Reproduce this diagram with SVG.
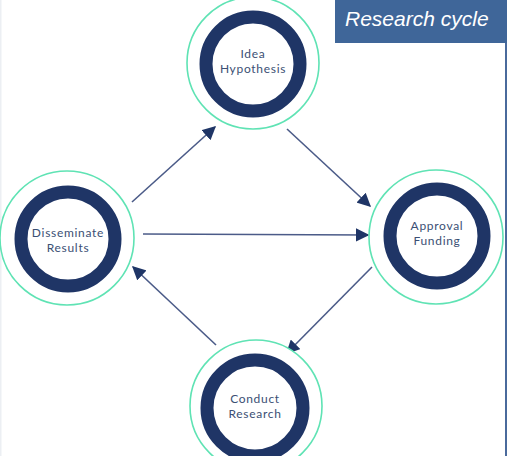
<svg xmlns="http://www.w3.org/2000/svg" width="507" height="456" viewBox="0 0 507 456">
<style>
.halo{fill:#ffffff;stroke:#5fe3b4;stroke-width:1.6}
.ring{fill:#ffffff;stroke:#1f3566;stroke-width:13}
.lbl{font-family:Lato,"Liberation Sans",sans-serif;font-size:12px;letter-spacing:0.7px;fill:#3b4f74;text-anchor:middle}
.conn{stroke:#4b5b88;stroke-width:1.6;fill:none;marker-end:url(#ah)}
</style>
<defs>
<marker id="ah" viewBox="0 0 10 10" refX="9" refY="5" markerWidth="8.5" markerHeight="8.5" markerUnits="strokeWidth" orient="auto">
<path d="M0,0 L10,5 L0,10 z" fill="#1f3566"/>
</marker>
</defs>
<rect x="0" y="0" width="507" height="456" fill="#ffffff"/>
<rect x="0" y="0" width="1.5" height="456" fill="#eceff3"/>
<rect x="505" y="0" width="2" height="456" fill="#4a6a9c"/>
<g id="title">
<rect x="335" y="0" width="172" height="43" fill="#3f6699"/>
<text x="345" y="26" font-family="Liberation Sans,Arial,sans-serif" font-style="italic" font-size="21" fill="#ffffff">Research cycle</text>
</g>
<g id="connectors">
<line class="conn" x1="132" y1="202" x2="215" y2="127"/>
<line class="conn" x1="287" y1="129" x2="370" y2="206"/>
<line class="conn" x1="372" y1="267" x2="287" y2="353"/>
<line class="conn" x1="216" y1="345" x2="133" y2="267"/>
<line class="conn" x1="143" y1="234" x2="368" y2="235"/>
</g>
<g id="idea">
<circle class="halo" cx="253" cy="63" r="66"/>
<circle class="ring" cx="253" cy="64" r="47"/>
<text class="lbl" x="253" y="58">Idea</text>
<text class="lbl" x="253" y="73">Hypothesis</text>
</g>
<g id="disseminate">
<circle class="halo" cx="67" cy="238" r="67"/>
<circle class="ring" cx="68" cy="239" r="47"/>
<text class="lbl" x="68" y="237">Disseminate</text>
<text class="lbl" x="68" y="252">Results</text>
</g>
<g id="approval">
<circle class="halo" cx="436" cy="237" r="67"/>
<circle class="ring" cx="437" cy="236" r="47"/>
<text class="lbl" x="437" y="230">Approval</text>
<text class="lbl" x="437" y="245">Funding</text>
</g>
<g id="conduct">
<circle class="halo" cx="256" cy="406" r="66"/>
<circle class="ring" cx="255" cy="408" r="48"/>
<text class="lbl" x="255" y="403">Conduct</text>
<text class="lbl" x="255" y="418">Research</text>
</g>
</svg>
